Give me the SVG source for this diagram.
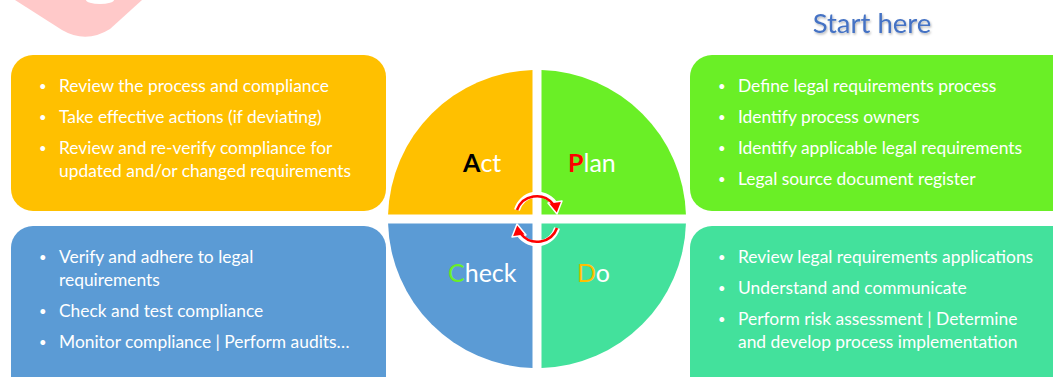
<svg xmlns="http://www.w3.org/2000/svg" width="1053" height="377" viewBox="0 0 1053 377">
<defs>
<style>
.box text{font-family:Lato,"Open Sans",sans-serif;font-size:17.4px;fill:#fff}
.box .bu{font-size:13px}
.lbl{font-family:Lato,"Open Sans",sans-serif;font-size:25px;fill:#fff}
.b{font-weight:bold}
.arc-w{fill:none;stroke:#fff;stroke-width:6}
.arc-r{fill:none;stroke:#f00;stroke-width:2.6}
</style>
<filter id="sh" x="-10%" y="-20%" width="120%" height="150%">
<feDropShadow dx="1" dy="1.5" stdDeviation="1" flood-color="#000" flood-opacity="0.3"/>
</filter>
</defs>
<rect width="1053" height="377" fill="#fff"/>
<g id="decor">
<path d="M15 0 L62 30 Q86 44 110 29 L142 0 Z" fill="#ffc9c9"/>
<ellipse cx="100" cy="0" rx="14" ry="4" fill="#fff"/>
</g>
<text x="872" y="33" text-anchor="middle" font-family="Lato,'Open Sans',sans-serif" font-size="27.5" fill="#4472c4" filter="url(#sh)">Start here</text>

<g id="act-box" class="box">
<rect x="11" y="55" width="375" height="156" rx="22" fill="#ffc000"/>
<text class="bu" x="39" y="91">•</text><text x="59" y="92">Review the process and compliance</text>
<text class="bu" x="39" y="122">•</text><text x="59" y="123">Take effective actions (if deviating)</text>
<text class="bu" x="39" y="153">•</text><text x="59" y="154">Review and re-verify compliance for</text>
<text x="59" y="177">updated and/or changed requirements</text>
</g>
<g id="check-box" class="box">
<rect x="11" y="226" width="375" height="175" rx="22" fill="#5b9bd5"/>
<text class="bu" x="39" y="262">•</text><text x="59" y="263">Verify and adhere to legal</text>
<text x="59" y="286">requirements</text>
<text class="bu" x="39" y="316">•</text><text x="59" y="317">Check and test compliance</text>
<text class="bu" x="39" y="347">•</text><text x="59" y="348">Monitor compliance | Perform audits…</text>
</g>
<g id="plan-box" class="box">
<rect x="690" y="55" width="390" height="156" rx="22" fill="#6aef26"/>
<text class="bu" x="718" y="91">•</text><text x="738" y="92">Define legal requirements process</text>
<text class="bu" x="718" y="122">•</text><text x="738" y="123">Identify process owners</text>
<text class="bu" x="718" y="153">•</text><text x="738" y="154">Identify applicable legal requirements</text>
<text class="bu" x="718" y="184">•</text><text x="738" y="185">Legal source document register</text>
</g>
<g id="do-box" class="box">
<rect x="690" y="226" width="390" height="175" rx="22" fill="#43e19c"/>
<text class="bu" x="718" y="262">•</text><text x="738" y="263">Review legal requirements applications</text>
<text class="bu" x="718" y="293">•</text><text x="738" y="294">Understand and communicate</text>
<text class="bu" x="718" y="324">•</text><text x="738" y="325">Perform risk assessment | Determine</text>
<text x="738" y="348">and develop process implementation</text>
</g>

<g id="act">
<path d="M532.5 214.5 V70.07 A149 149 0 0 0 388.07 214.5 Z" fill="#ffc000"/>
<text x="463" y="172" class="lbl"><tspan class="b" fill="#000">A</tspan>ct</text>
</g>
<g id="plan">
<path d="M541.5 214.5 V70.07 A149 149 0 0 1 685.93 214.5 Z" fill="#6aef26"/>
<text x="568" y="172" class="lbl"><tspan class="b" fill="#f00">P</tspan>lan</text>
</g>
<g id="check">
<path d="M532.5 223.5 V367.93 A149 149 0 0 1 388.07 223.5 Z" fill="#5b9bd5"/>
<text x="448" y="282" class="lbl"><tspan fill="#6aef26">C</tspan>heck</text>
</g>
<g id="do">
<path d="M541.5 223.5 V367.93 A149 149 0 0 0 685.93 223.5 Z" fill="#43e19c"/>
<text x="577" y="282" class="lbl"><tspan fill="#ffc000">D</tspan>o</text>
</g>

<g id="connectors">
<path class="arc-w" d="M517 210 A21 21 0 0 1 554 203"/>
<path class="arc-w" d="M557 228 A21 21 0 0 1 520 235"/>
<polygon points="548,203 562,201 557,214" fill="#f00" stroke="#fff" stroke-width="1.5" stroke-linejoin="round"/>
<polygon points="526,235 512,237 517,224" fill="#f00" stroke="#fff" stroke-width="1.5" stroke-linejoin="round"/>
<path class="arc-r" d="M517 210 A21 21 0 0 1 553 204"/>
<path class="arc-r" d="M557 228 A21 21 0 0 1 521 234"/>
</g>
</svg>
